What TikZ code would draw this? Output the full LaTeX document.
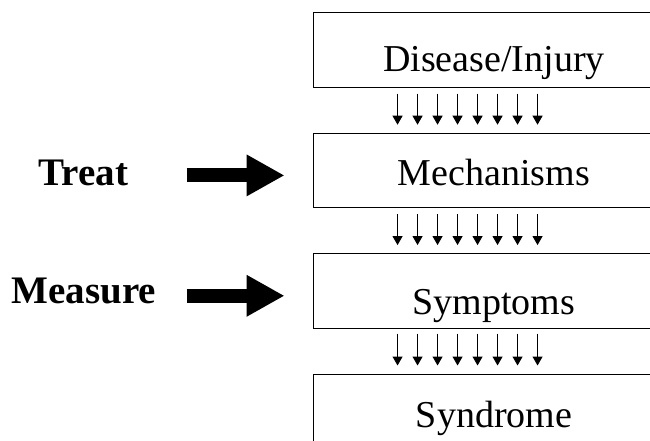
\documentclass[tikz,border=0pt]{standalone}
\usepackage{fontspec}
\setmainfont{Liberation Serif}
\usetikzlibrary{positioning,arrows.meta}

\begin{document}
\begin{tikzpicture}[
        x=1pt, y=1pt,
        node distance=45pt,
        stage/.style={draw, line width=0.9pt, rectangle, minimum width=362pt, minimum height=74.5pt, inner sep=0pt, font=\fontsize{38}{40}\selectfont, text depth=0pt, text height=#1},
        stage/.default=38pt,
        action/.style={font=\bfseries\fontsize{39}{41}\selectfont, anchor=base},
        flow/.style={line width=1pt, -{Triangle[length=9pt,width=10pt]}},
        push/.style={line width=14pt, -{Triangle[length=38pt,width=39pt]}}
    ]
        % Page size, boxes run off the right and bottom edges
        \useasboundingbox (0,0) rectangle (650,-441);
        \clip (0,0) rectangle (650,-441);

        % Define stages
        \node[stage=44pt] (DISEASE) at (494,-50) {Disease/Injury};
        \node[stage=31pt, below=of DISEASE] (MECH) {Mechanisms};
        \node[stage=48pt, below=of MECH] (SYMPT) {Symptoms};
        \node[stage=33pt, below=of SYMPT] (SYND) {Syndrome};

        % Actions
        \node[action] (TREAT) at (83.5,-185) {Treat};
        \node[action] (MEASURE) at (84,-303) {Measure};

        % Flow between stages
        \foreach \i in {0,...,7} {
            \draw[flow] ([xshift=85pt+20pt*\i, yshift=-6pt]DISEASE.south west) -- ([xshift=85pt+20pt*\i, yshift=8pt]MECH.north west);
            \draw[flow] ([xshift=85pt+20pt*\i, yshift=-6pt]MECH.south west) -- ([xshift=85pt+20pt*\i, yshift=8pt]SYMPT.north west);
            \draw[flow] ([xshift=85pt+20pt*\i, yshift=-5pt]SYMPT.south west) -- ([xshift=85pt+20pt*\i, yshift=8pt]SYND.north west);
        }

        % Treat -> Mechanisms, Measure -> Symptoms
        \draw[push] ([xshift=-126pt, yshift=-5pt]MECH.west) -- ([xshift=-28pt, yshift=-5pt]MECH.west);
        \draw[push] ([xshift=-126pt, yshift=-5pt]SYMPT.west) -- ([xshift=-28pt, yshift=-5pt]SYMPT.west);

    \end{tikzpicture}
\end{document}
